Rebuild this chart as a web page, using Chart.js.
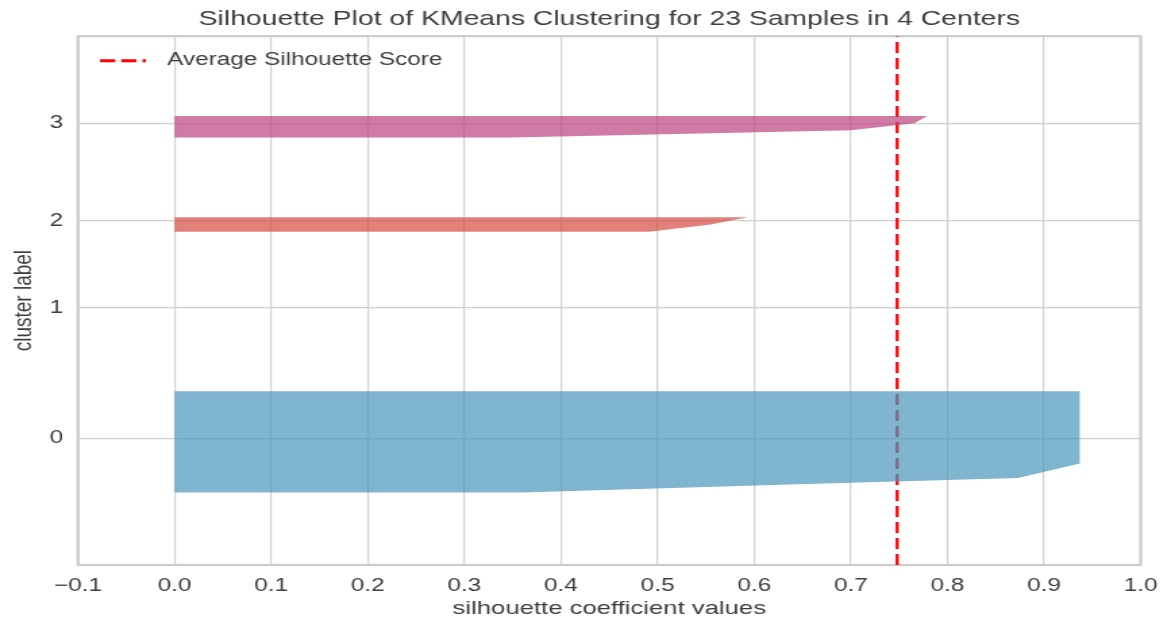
<!DOCTYPE html>
<html>
<head>
<meta charset="utf-8">
<title>Silhouette Plot</title>
<script src="https://cdn.jsdelivr.net/npm/chart.js@4.4.0/dist/chart.umd.min.js"></script>
<style>
  html, body { margin: 0; padding: 0; background: #fff; }
  #silhouette { display: block; }
</style>
</head>
<body>
<!-- the reference is a horizontally stretched figure, so the canvas is drawn narrower and scaled up -->
<canvas id="silhouette" width="867" height="622" style="width:1171px;height:622px;"></canvas>
<script>
const chartTitle = 'Silhouette Plot of KMeans Clustering for 23 Samples in 4 Centers';
const clusterLabels = ['0', '1', '2', '3'];

// sorted silhouette values of each cluster
const cluster0 = [0.36, 0.61, 0.873, 0.905, 0.937, 0.937, 0.937, 0.937, 0.937, 0.937, 0.937, 0.937, 0.937, 0.937, 0.937];
const cluster1 = [0.0];
const cluster2 = [0.491, 0.555, 0.593];
const cluster3 = [0.349, 0.70, 0.766, 0.779];
const avgScore = 0.748;

const xTicks = [-0.1, 0.0, 0.1, 0.2, 0.3, 0.4, 0.5, 0.6, 0.7, 0.8, 0.9, 1.0];

const clusterColors = ['rgba(72,149,185,0.7)', 'rgba(92,170,120,0.7)', 'rgba(214,74,65,0.7)', 'rgba(188,66,128,0.7)'];
const fontFamily = '"Liberation Sans", Arial, sans-serif';
const textColor = '#3c3c3c';
const gridColor = '#d0d0d0';

// same stacking as yellowbrick: clusters start at 10 with a gap of 10 between them
const clusters = [cluster0, cluster1, cluster2, cluster3];
const nSamples = clusters.reduce((s, c) => s + c.length, 0);
const yMax = nSamples + (clusters.length + 1) * 10;
const tickPos = [];
const datasets = [];
let yLower = 10;
clusters.forEach((values, i) => {
    const pts = [{ x: 0, y: yLower }];
    values.forEach((v, j) => pts.push({ x: v, y: yLower + j }));
    pts.push({ x: 0, y: yLower + values.length - 1 });
    tickPos.push(yLower + 0.5 * values.length);
    datasets.push({
        label: 'cluster ' + clusterLabels[i],
        data: pts,
        showLine: true,
        fill: 'shape',
        backgroundColor: clusterColors[i],
        borderColor: 'rgba(0,0,0,0)',
        borderWidth: 0,
        pointRadius: 0,
        pointHoverRadius: 0
    });
    yLower += values.length + 10;
});
datasets.push({
    label: 'Average Silhouette Score',
    data: [{ x: avgScore, y: 0 }, { x: avgScore, y: yMax }],
    showLine: true,
    fill: false,
    borderColor: '#ff0000',
    borderWidth: 2.3,
    borderDash: [11, 5],
    pointRadius: 0,
    pointHoverRadius: 0
});

function fmtTick(v) {
    if (Math.abs(v) < 1e-9) v = 0;
    const s = Math.abs(v).toFixed(1);
    return v < 0 ? '\u2212' + s : s;
}

const frame = {
    id: 'frame',
    beforeDatasetsDraw(chart) {
        const { ctx, chartArea: a } = chart;
        ctx.save();
        ctx.strokeStyle = '#cccccc';
        ctx.lineWidth = 2.2;
        ctx.strokeRect(a.left, a.top, a.right - a.left, a.bottom - a.top);
        ctx.restore();
    }
};

const legendInside = {
    id: 'legendInside',
    afterDraw(chart) {
        const { ctx, chartArea: a } = chart;
        const ds = chart.data.datasets[chart.data.datasets.length - 1];
        const y = a.top + 24.5;
        const x0 = a.left + 16.3;
        ctx.save();
        ctx.strokeStyle = ds.borderColor;
        ctx.lineWidth = 3;
        ctx.setLineDash([11.3, 4.4]);
        ctx.beginPath();
        ctx.moveTo(x0, y);
        ctx.lineTo(x0 + 34, y);
        ctx.stroke();
        ctx.setLineDash([]);
        ctx.fillStyle = textColor;
        ctx.font = '18px ' + fontFamily;
        ctx.textBaseline = 'middle';
        ctx.textAlign = 'left';
        ctx.fillText(ds.label, a.left + 66, a.top + 23.8);
        ctx.restore();
    }
};

new Chart(document.getElementById('silhouette').getContext('2d'), {
    type: 'scatter',
    data: { datasets: datasets },
    plugins: [frame, legendInside],
    options: {
        responsive: false,
        animation: false,
        devicePixelRatio: 1,
        events: [],
        layout: { padding: { left: 0, right: 22, top: 0, bottom: 0 } },
        plugins: {
            legend: { display: false },
            tooltip: { enabled: false },
            title: {
                display: true,
                text: chartTitle,
                fullSize: false,
                color: textColor,
                font: { family: fontFamily, size: 21, weight: 'normal' },
                padding: { top: 7, bottom: 4 }
            }
        },
        scales: {
            x: {
                type: 'linear',
                min: -0.1,
                max: 1.0,
                afterFit(s) { s.height = 57; },
                afterBuildTicks(s) { s.ticks = xTicks.map(v => ({ value: v })); },
                ticks: {
                    padding: 10,
                    color: textColor,
                    font: { family: fontFamily, size: 18 },
                    maxRotation: 0,
                    autoSkip: false,
                    callback: v => fmtTick(v)
                },
                grid: { color: gridColor, lineWidth: 1.2, drawTicks: false },
                border: { display: false },
                title: {
                    display: true,
                    text: 'silhouette coefficient values',
                    color: textColor,
                    font: { family: fontFamily, size: 19 },
                    padding: { top: 0, bottom: 2 }
                }
            },
            y: {
                type: 'linear',
                min: 0,
                max: yMax,
                afterFit(s) { s.width = 57.75; },
                afterBuildTicks(s) { s.ticks = tickPos.map(v => ({ value: v })); },
                ticks: {
                    padding: 11,
                    color: textColor,
                    font: { family: fontFamily, size: 18 },
                    callback: (v, i) => clusterLabels[i]
                },
                grid: { color: gridColor, lineWidth: 1.2, drawTicks: false },
                border: { display: false },
                title: {
                    display: true,
                    text: 'cluster label',
                    color: textColor,
                    font: { family: fontFamily, size: 19 },
                    padding: { top: 6, bottom: 0 }
                }
            }
        }
    }
});
</script>
</body>
</html>
